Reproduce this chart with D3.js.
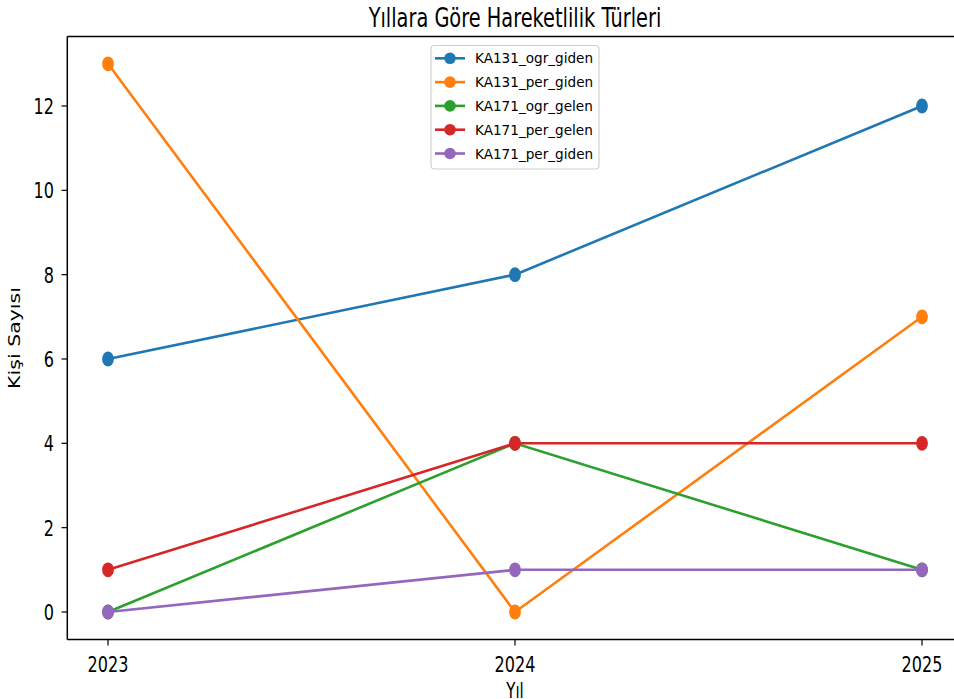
<!DOCTYPE html>
<html>
<head>
<meta charset="utf-8">
<script src="https://cdn.jsdelivr.net/npm/d3@7"></script>
<style>
  html, body { margin: 0; padding: 0; background: #fff; }
  svg { display: block; font-family: "DejaVu Sans", sans-serif; }
</style>
</head>
<body>
<svg id="chart" width="954" height="699"></svg>
<script>
// data
const years = [2023, 2024, 2025];
const seriesNames = ['KA131_ogr_giden', 'KA131_per_giden', 'KA171_ogr_gelen', 'KA171_per_gelen', 'KA171_per_giden'];
const ka131OgrGiden = [6, 8, 12];
const ka131PerGiden = [13, 0, 7];
const ka171OgrGelen = [0, 4, 1];
const ka171PerGelen = [1, 4, 4];
const ka171PerGiden = [0, 1, 1];
const yTicks = [0, 2, 4, 6, 8, 10, 12];
const colors = ['#1f77b4', '#ff7f0e', '#2ca02c', '#d62728', '#9467bd'];

const allSeries = [ka131OgrGiden, ka131PerGiden, ka171OgrGelen, ka171PerGelen, ka171PerGiden];

// the picture is squeezed sideways, text and markers follow that
const sx = 0.73;

const svg = d3.select('#chart');

const x = d3.scaleLinear().domain([2022.9, 2025.1]).range([67.3, 962.7]);
const y = d3.scaleLinear().domain([-0.65, 13.65]).range([639.4, 36.4]);

// squeezed text helper
function sText(g, tx, ty, str, size, anchor, rot) {
  return g.append('text')
    .attr('transform', `translate(${tx},${ty}) scale(${sx},1)` + (rot ? ` rotate(${rot})` : ''))
    .attr('font-size', size)
    .attr('text-anchor', anchor)
    .attr('fill', '#000')
    .text(str);
}

// lines + markers
const line = d3.line()
  .x((d, i) => x(years[i]))
  .y(d => y(d));

allSeries.forEach((vals, k) => {
  const g = svg.append('g');
  g.append('path')
    .attr('d', line(vals))
    .attr('fill', 'none')
    .attr('stroke', colors[k])
    .attr('stroke-width', 2.6);
  g.selectAll('ellipse')
    .data(vals)
    .enter()
    .append('ellipse')
    .attr('cx', (d, i) => x(years[i]))
    .attr('cy', d => y(d))
    .attr('rx', 5.9)
    .attr('ry', 7.4)
    .attr('fill', colors[k]);
});

// spines
svg.append('line').attr('x1', 67.3).attr('x2', 954).attr('y1', 36.4).attr('y2', 36.4)
  .attr('stroke', '#000').attr('stroke-width', 1.5);
svg.append('line').attr('x1', 67.3).attr('x2', 954).attr('y1', 639.4).attr('y2', 639.4)
  .attr('stroke', '#000').attr('stroke-width', 1.5);
svg.append('line').attr('x1', 67.3).attr('x2', 67.3).attr('y1', 36.4).attr('y2', 639.4)
  .attr('stroke', '#000').attr('stroke-width', 1.5);

// y ticks
const yAxis = svg.append('g');
yTicks.forEach(t => {
  yAxis.append('line').attr('x1', 61.5).attr('x2', 67.3).attr('y1', y(t)).attr('y2', y(t))
    .attr('stroke', '#000').attr('stroke-width', 1.2);
  sText(yAxis, 54, y(t) + 8, String(t), 22, 'end');
});

// x ticks
const xAxis = svg.append('g');
years.forEach(t => {
  xAxis.append('line').attr('x1', x(t)).attr('x2', x(t)).attr('y1', 639.4).attr('y2', 645.5)
    .attr('stroke', '#000').attr('stroke-width', 1.2);
  sText(xAxis, x(t), 672, String(t), 22, 'middle');
});

// labels and title
sText(svg, 515, 27, 'Yıllara Göre Hareketlilik Türleri', 26.5, 'middle');
sText(svg, 515, 698, 'Yıl', 20.5, 'middle');
sText(svg, 19.5, 338, 'Kişi Sayısı', 20.5, 'middle', -90);

// legend (not squeezed)
const legend = svg.append('g');
legend.append('rect')
  .attr('x', 431).attr('y', 45.5).attr('width', 168).attr('height', 123.5)
  .attr('rx', 3.5)
  .attr('fill', '#fff').attr('fill-opacity', 0.8)
  .attr('stroke', '#d0d0d0').attr('stroke-width', 1.2);
seriesNames.forEach((name, k) => {
  const ly = 58.3 + k * 23.8;
  legend.append('line').attr('x1', 435).attr('x2', 465).attr('y1', ly).attr('y2', ly)
    .attr('stroke', colors[k]).attr('stroke-width', 2.6);
  legend.append('circle').attr('cx', 450).attr('cy', ly).attr('r', 5.8).attr('fill', colors[k]);
  legend.append('text')
    .attr('x', 475).attr('y', ly + 5)
    .attr('font-size', 13.6)
    .attr('fill', '#000')
    .text(name);
});
</script>
</body>
</html>
